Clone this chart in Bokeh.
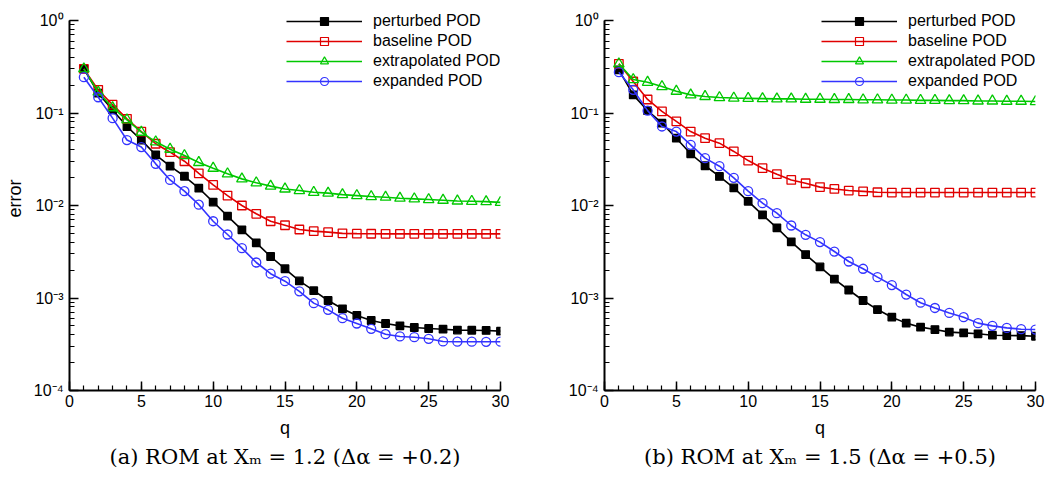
import numpy as np
from bokeh.plotting import figure
from bokeh.layouts import row
from bokeh.models import (LogTicker, SingleIntervalTicker, CustomJSTickFormatter,
                          Legend, LegendItem, ColumnDataSource, Title)
from bokeh.embed import file_html
from bokeh.resources import INLINE

q = list(range(1, 31))

L_perturbed = [0.30, 0.164, 0.108, 0.0715, 0.051, 0.0353, 0.0266, 0.0207, 0.0154, 0.0109,
               0.00767, 0.00546, 0.00395, 0.00281, 0.00207, 0.00153, 0.00120, 0.00094, 0.000764, 0.000647,
               0.000571, 0.000530, 0.000500, 0.000480, 0.000468, 0.000460, 0.000450, 0.000448, 0.000446, 0.000438]
L_baseline = [0.30, 0.178, 0.123, 0.0865, 0.063, 0.0465, 0.0377, 0.0301, 0.0223, 0.0167,
              0.0128, 0.0100, 0.00813, 0.00676, 0.00612, 0.00550, 0.00528, 0.00515, 0.00500, 0.00496,
              0.00495, 0.00494, 0.00494, 0.00494, 0.00494, 0.00494, 0.00494, 0.00494, 0.00494, 0.00494]
L_extrapolated = [0.30, 0.168, 0.114, 0.0843, 0.062, 0.0488, 0.0406, 0.0347, 0.0292, 0.0253,
                  0.0220, 0.0194, 0.0176, 0.0162, 0.0151, 0.0145, 0.0139, 0.0136, 0.0131, 0.0128,
                  0.0125, 0.0123, 0.0120, 0.0118, 0.0116, 0.0114, 0.0112, 0.0111, 0.0110, 0.0108]
L_expanded = [0.244, 0.148, 0.088, 0.051, 0.0428, 0.0282, 0.0189, 0.0143, 0.0102, 0.00676,
              0.00486, 0.00346, 0.00242, 0.00183, 0.00152, 0.00118, 0.00088, 0.000745, 0.000605, 0.00053,
              0.000464, 0.000406, 0.000384, 0.000377, 0.000362, 0.000339, 0.000337, 0.000337, 0.000336, 0.000337]

R_perturbed = [0.293, 0.157, 0.106, 0.0776, 0.0534, 0.0362, 0.0269, 0.0206, 0.0155, 0.0111,
               0.00793, 0.00574, 0.00405, 0.00295, 0.00217, 0.00160, 0.00122, 0.00094, 0.00075, 0.00062,
               0.000535, 0.000484, 0.000456, 0.000428, 0.000420, 0.000410, 0.000396, 0.000393, 0.000392, 0.000386]
R_baseline = [0.34, 0.219, 0.140, 0.104, 0.081, 0.063, 0.0534, 0.0472, 0.0384, 0.0306,
              0.0253, 0.0218, 0.0189, 0.0174, 0.0158, 0.0151, 0.0145, 0.0142, 0.0139, 0.0138,
              0.0138, 0.0138, 0.0138, 0.0138, 0.0138, 0.0138, 0.0138, 0.0138, 0.0138, 0.0138]
R_extrapolated = [0.34, 0.23, 0.215, 0.193, 0.172, 0.157, 0.151, 0.147, 0.145, 0.144,
                  0.143, 0.142, 0.142, 0.141, 0.141, 0.140, 0.140, 0.139, 0.139, 0.138,
                  0.138, 0.137, 0.137, 0.136, 0.136, 0.135, 0.135, 0.134, 0.134, 0.133]
R_expanded = [0.276, 0.178, 0.106, 0.0715, 0.063, 0.0453, 0.0325, 0.0266, 0.0199, 0.0143,
              0.0106, 0.00826, 0.00608, 0.00482, 0.00402, 0.00318, 0.00248, 0.00207, 0.00168, 0.00138,
              0.00109, 0.00089, 0.00078, 0.00069, 0.00062, 0.000535, 0.000500, 0.000475, 0.000460, 0.000456]

series_names = ["perturbed POD", "baseline POD", "extrapolated POD", "expanded POD"]
captions = ["(a) ROM at X\u2098 = 1.2 (\u0394\u03b1 = +0.2)", "(b) ROM at X\u2098 = 1.5 (\u0394\u03b1 = +0.5)"]

COLORS = ["#000000", "#e00000", "#00c800", "#3333ff"]
MARKERS = ["square", "square", "triangle", "circle"]
SIZES = [7.5, 8.5, 10.5, 9]
LEG_SIZES = [6.5, 6.5, 8.5, 7.5]
FILLED = [True, False, False, False]

SANS = "Liberation Sans"
DECADE_PX = 92.5
EXTRA_TOP = 14

fmt = CustomJSTickFormatter(code="""
const sup = {'-':'\u207b','0':'\u2070','1':'\u00b9','2':'\u00b2','3':'\u00b3','4':'\u2074',
             '5':'\u2075','6':'\u2076','7':'\u2077','8':'\u2078','9':'\u2079'};
const e = Math.round(Math.log10(tick));
return '10' + String(e).split('').map(c => sup[c]).join('');
""")


def make_panel(data, caption, left_border, right_border, ylabel):
    ytop = 10 ** (EXTRA_TOP / DECADE_PX)
    p = figure(y_axis_type="log", x_range=(0, 30), y_range=(1e-4, ytop),
               frame_width=431, frame_height=370 + EXTRA_TOP,
               min_border_left=left_border, min_border_right=right_border,
               min_border_top=20 - EXTRA_TOP, min_border_bottom=0,
               output_backend="svg", toolbar_location=None,
               background_fill_color="white", border_fill_color="white")
    p.outline_line_color = None
    p.grid.visible = False

    items = []
    for vals, name, c, m, s, ls, filled in zip(data, series_names, COLORS, MARKERS, SIZES, LEG_SIZES, FILLED):
        src = ColumnDataSource(dict(x=q, y=vals))
        lr = p.line("x", "y", source=src, line_color=c, line_width=1.6)
        p.scatter("x", "y", source=src, marker=m, size=s, line_color=c, line_width=1.3,
                  fill_color=c if filled else None, fill_alpha=1.0 if filled else 0.0)
        lsrc = ColumnDataSource(dict(x=[np.nan], y=[np.nan]))
        mr = p.scatter("x", "y", source=lsrc, marker=m, size=ls, line_color=c, line_width=1.2,
                       fill_color=c if filled else None, fill_alpha=1.0 if filled else 0.0)
        items.append(LegendItem(label=name, renderers=[lr, mr]))

    legend = Legend(items=items, location=(217, 299), padding=0, margin=0, spacing=0,
                    glyph_width=76, glyph_height=20, label_height=20, label_standoff=11,
                    label_text_font=SANS, label_text_font_size="16px", label_text_color="black",
                    border_line_color=None, background_fill_alpha=0)
    p.add_layout(legend, "center")

    xa = p.xaxis[0]
    xa.ticker = SingleIntervalTicker(interval=5, num_minor_ticks=5)
    ya = p.yaxis[0]
    ya.ticker = LogTicker(num_minor_ticks=10)
    ya.formatter = fmt
    ya.bounds = (1e-4, 1)
    for ax in (xa, ya):
        ax.axis_line_width = 2
        ax.axis_line_color = "black"
        ax.major_tick_in = 9
        ax.major_tick_out = 0
        ax.minor_tick_in = 5
        ax.minor_tick_out = 0
        ax.major_tick_line_width = 1.5
        ax.minor_tick_line_width = 1.2
        ax.major_tick_line_color = "black"
        ax.minor_tick_line_color = "black"
        ax.major_label_text_font = SANS
        ax.major_label_text_font_size = "16px"
        ax.major_label_text_color = "black"
        ax.axis_label_text_font = SANS
        ax.axis_label_text_font_size = "18px"
        ax.axis_label_text_font_style = "normal"
        ax.axis_label_text_color = "black"
    xa.axis_label = "q"
    xa.major_label_standoff = 4
    xa.axis_label_standoff = 8
    ya.major_label_standoff = 6
    if ylabel:
        ya.axis_label = ylabel
        ya.axis_label_standoff = 6

    t = Title(text=caption, align="center", text_font="DejaVu Serif", text_font_size="21px",
              text_font_style="normal", text_color="black", offset=0, standoff=4)
    p.add_layout(t, "below")
    return p


p1 = make_panel([L_perturbed, L_baseline, L_extrapolated, L_expanded], captions[0], 69, 24, "error")
p2 = make_panel([R_perturbed, R_baseline, R_extrapolated, R_expanded], captions[1], 80, 13, None)

layout = row(p1, p2)
open("out.html", "w").write(file_html(layout, INLINE))
